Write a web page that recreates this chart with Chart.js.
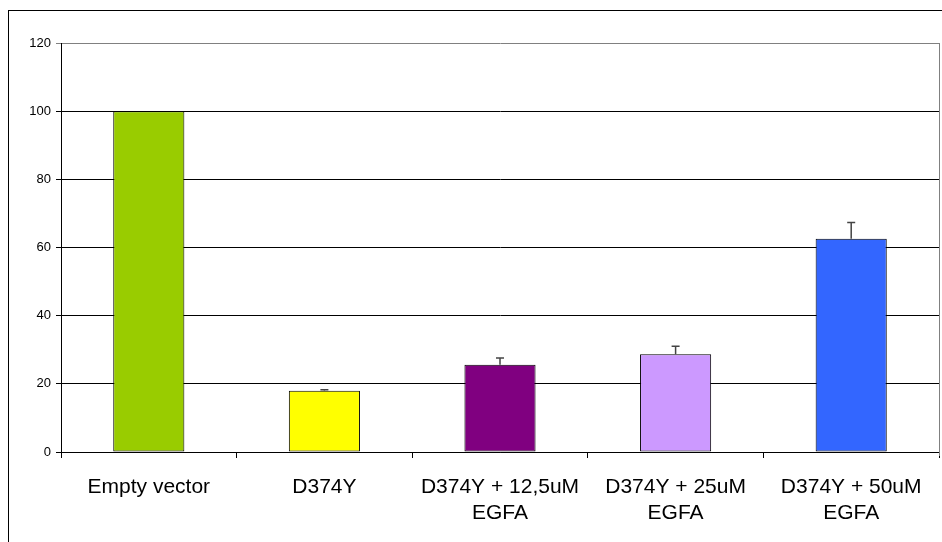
<!DOCTYPE html>
<html>
<head>
<meta charset="utf-8">
<script src="https://cdn.jsdelivr.net/npm/chart.js@4/dist/chart.umd.min.js"></script>
<style>
  html, body { margin: 0; padding: 0; background: #fff; overflow: hidden; }
  #wrap { position: relative; width: 942px; height: 542px; }
</style>
</head>
<body>
<div id="wrap"><canvas id="expChart" width="942" height="542"></canvas></div>
<script>
const categories = [
  ["Empty vector"],
  ["D374Y"],
  ["D374Y + 12,5uM", "EGFA"],
  ["D374Y + 25uM", "EGFA"],
  ["D374Y + 50uM", "EGFA"]
];
const values = [100, 18, 25.6, 28.7, 62.6];
const errors = [0, 0.3, 2.0, 2.3, 4.7];
const barColors = ["#99CC00", "#FFFF00", "#800080", "#CC99FF", "#3366FF"];
const yTicks = [0, 20, 40, 60, 80, 100, 120];

const fontFamily = "'Liberation Sans', Arial, sans-serif";

// upward-only error bars with a small cap
const errorBars = {
  id: "errorBars",
  afterDatasetsDraw(chart) {
    const { ctx, scales: { y } } = chart;
    const meta = chart.getDatasetMeta(0);
    ctx.save();
    ctx.strokeStyle = "#444";
    ctx.lineWidth = 1.5;
    meta.data.forEach((bar, i) => {
      if (!errors[i]) return;
      const top = y.getPixelForValue(values[i]);
      const tip = y.getPixelForValue(values[i] + errors[i]);
      ctx.beginPath();
      ctx.moveTo(bar.x, top);
      ctx.lineTo(bar.x, tip);
      ctx.moveTo(bar.x - 4, tip);
      ctx.lineTo(bar.x + 4, tip);
      ctx.stroke();
    });
    ctx.restore();
  }
};

// outer chart frame and the grey right edge of the plot area
const frame = {
  id: "frame",
  beforeDraw(chart) {
    const ctx = chart.ctx;
    ctx.save();
    ctx.strokeStyle = "#000";
    ctx.lineWidth = 1;
    ctx.strokeRect(8.5, 10.5, 2000, 2000);
    ctx.restore();
  },
  afterDraw(chart) {
    const { ctx, chartArea: a } = chart;
    ctx.save();
    ctx.strokeStyle = "#808080";
    ctx.lineWidth = 1;
    ctx.beginPath();
    ctx.moveTo(a.right + 0.5, a.top);
    ctx.lineTo(a.right + 0.5, a.bottom + 4);
    ctx.stroke();
    ctx.restore();
  }
};

new Chart(document.getElementById("expChart"), {
  type: "bar",
  data: {
    labels: categories,
    datasets: [{
      data: values,
      backgroundColor: barColors,
      borderColor: "#000",
      borderWidth: 1,
      borderSkipped: false,
      categoryPercentage: 1,
      barPercentage: 0.405
    }]
  },
  options: {
    responsive: false,
    animation: false,
    layout: { padding: { left: 0, top: 43, right: 3, bottom: 0 } },
    plugins: {
      legend: { display: false },
      tooltip: { enabled: false }
    },
    scales: {
      x: {
        afterFit: s => { s.height = 90; },
        grid: {
          offset: true,
          drawOnChartArea: false,
          drawTicks: true,
          tickLength: 6,
          color: "#000"
        },
        border: { color: "#000", width: 1 },
        ticks: {
          color: "#000",
          padding: 16,
          maxRotation: 0,
          autoSkip: false,
          font: { family: fontFamily, size: 21, lineHeight: 1.25 }
        }
      },
      y: {
        min: 0,
        max: 120,
        afterFit: s => { s.width = 61; },
        afterBuildTicks: s => { s.ticks = yTicks.map(v => ({ value: v })); },
        grid: {
          color: ctx => ctx.tick && ctx.tick.value === 120 ? "#808080" : "#000",
          tickLength: 5
        },
        border: { color: "#000", width: 1 },
        ticks: {
          color: "#000",
          padding: 5,
          font: { family: fontFamily, size: 13 }
        }
      }
    }
  },
  plugins: [errorBars, frame]
});
</script>
</body>
</html>
